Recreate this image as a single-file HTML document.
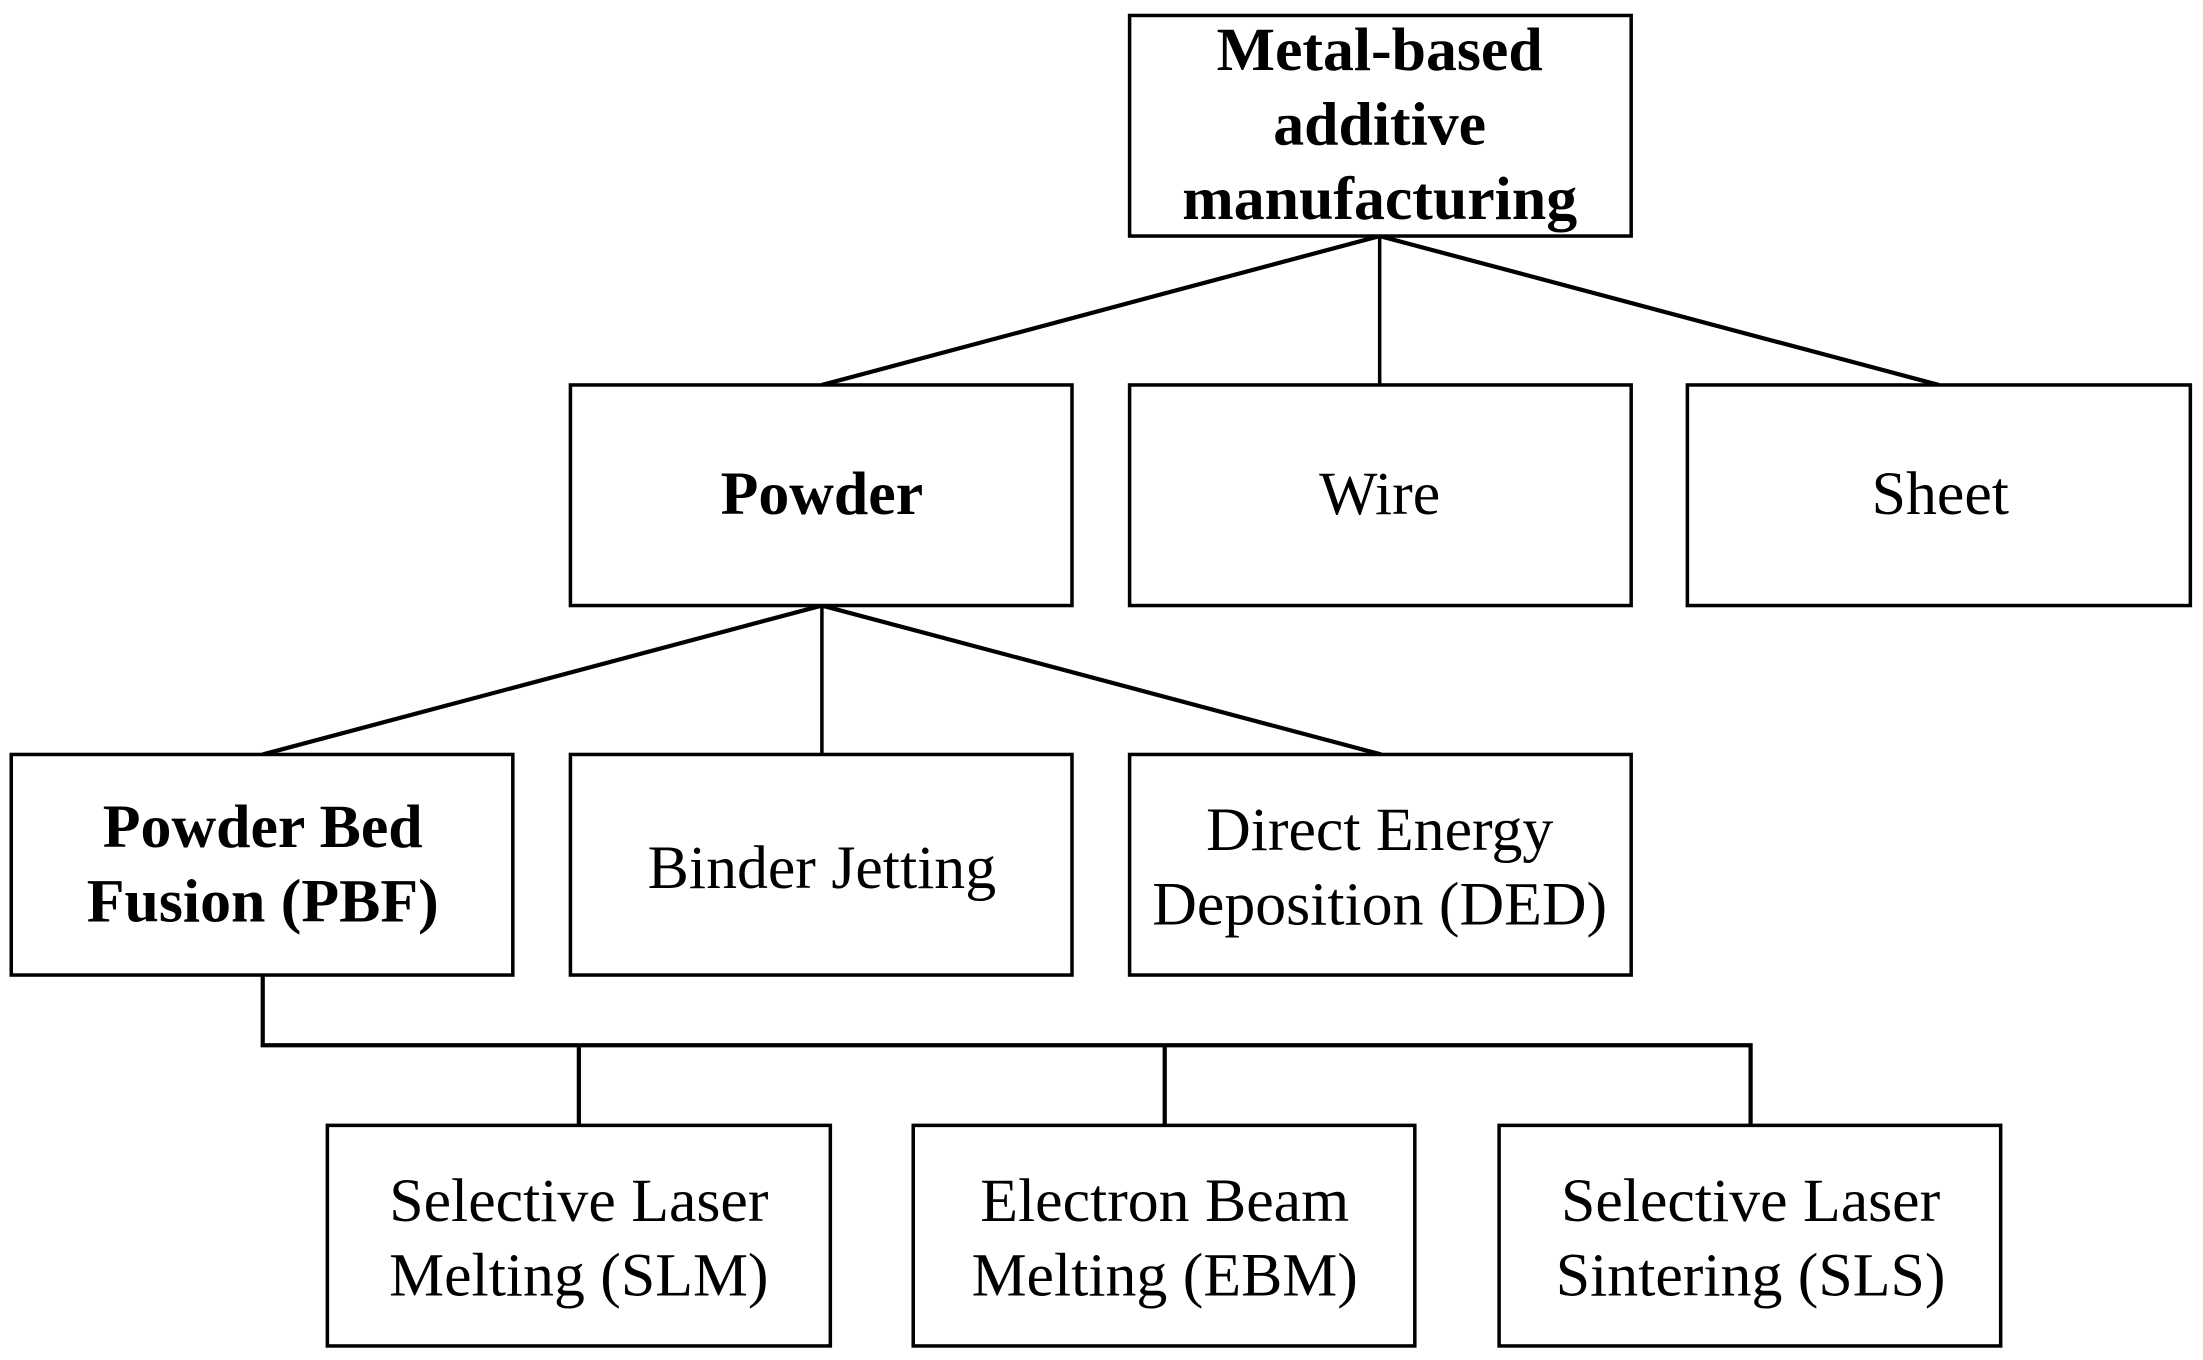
<!DOCTYPE html>
<html><head><meta charset="utf-8">
<style>
html,body{margin:0;padding:0;background:#fff;}
svg{display:block;}
text{font-family:"Liberation Serif",serif;fill:#000;}
</style></head>
<body>
<svg width="2203" height="1360" viewBox="0 0 1568 968" preserveAspectRatio="none" xmlns="http://www.w3.org/2000/svg">
<g stroke="#000" stroke-width="3" fill="none">
<line x1="982" y1="168" x2="585" y2="274"/>
<line x1="982" y1="168" x2="982" y2="274" stroke-width="2.5"/>
<line x1="982" y1="168" x2="1380" y2="274"/>
<line x1="585" y1="431" x2="187" y2="537"/>
<line x1="585" y1="431" x2="585" y2="537" stroke-width="2.5"/>
<line x1="585" y1="431" x2="983" y2="537"/>
<polyline points="187,694 187,744 1246,744 1246,801"/>
<line x1="412" y1="744" x2="412" y2="801"/>
<line x1="829" y1="744" x2="829" y2="801"/>
</g>
<g stroke="#000" stroke-width="2.5" fill="#fff">
<rect x="804" y="11" width="357" height="157"/>
<rect x="406" y="274" width="357" height="157"/>
<rect x="804" y="274" width="357" height="157"/>
<rect x="1201" y="274" width="358" height="157"/>
<rect x="8" y="537" width="357" height="157"/>
<rect x="406" y="537" width="357" height="157"/>
<rect x="804" y="537" width="357" height="157"/>
<rect x="233" y="801" width="358" height="157"/>
<rect x="650" y="801" width="357" height="157"/>
<rect x="1067" y="801" width="357" height="157"/>
</g>
<g text-anchor="middle" font-size="44">
<g font-weight="bold">
<text x="982" y="50">Metal-based</text>
<text x="982" y="103">additive</text>
<text x="982" y="156">manufacturing</text>
<text x="585" y="366">Powder</text>
<text x="187" y="603">Powder Bed</text>
<text x="187" y="656">Fusion (PBF)</text>
</g>
<text x="982" y="366">Wire</text>
<text x="1381" y="366">Sheet</text>
<text x="585" y="632">Binder Jetting</text>
<text x="982" y="605">Direct Energy</text>
<text x="982" y="658">Deposition (DED)</text>
<text x="412" y="869">Selective Laser</text>
<text x="412" y="922">Melting (SLM)</text>
<text x="829" y="869">Electron Beam</text>
<text x="829" y="922">Melting (EBM)</text>
<text x="1246" y="869">Selective Laser</text>
<text x="1246" y="922">Sintering (SLS)</text>
</g>
</svg>
</body></html>
